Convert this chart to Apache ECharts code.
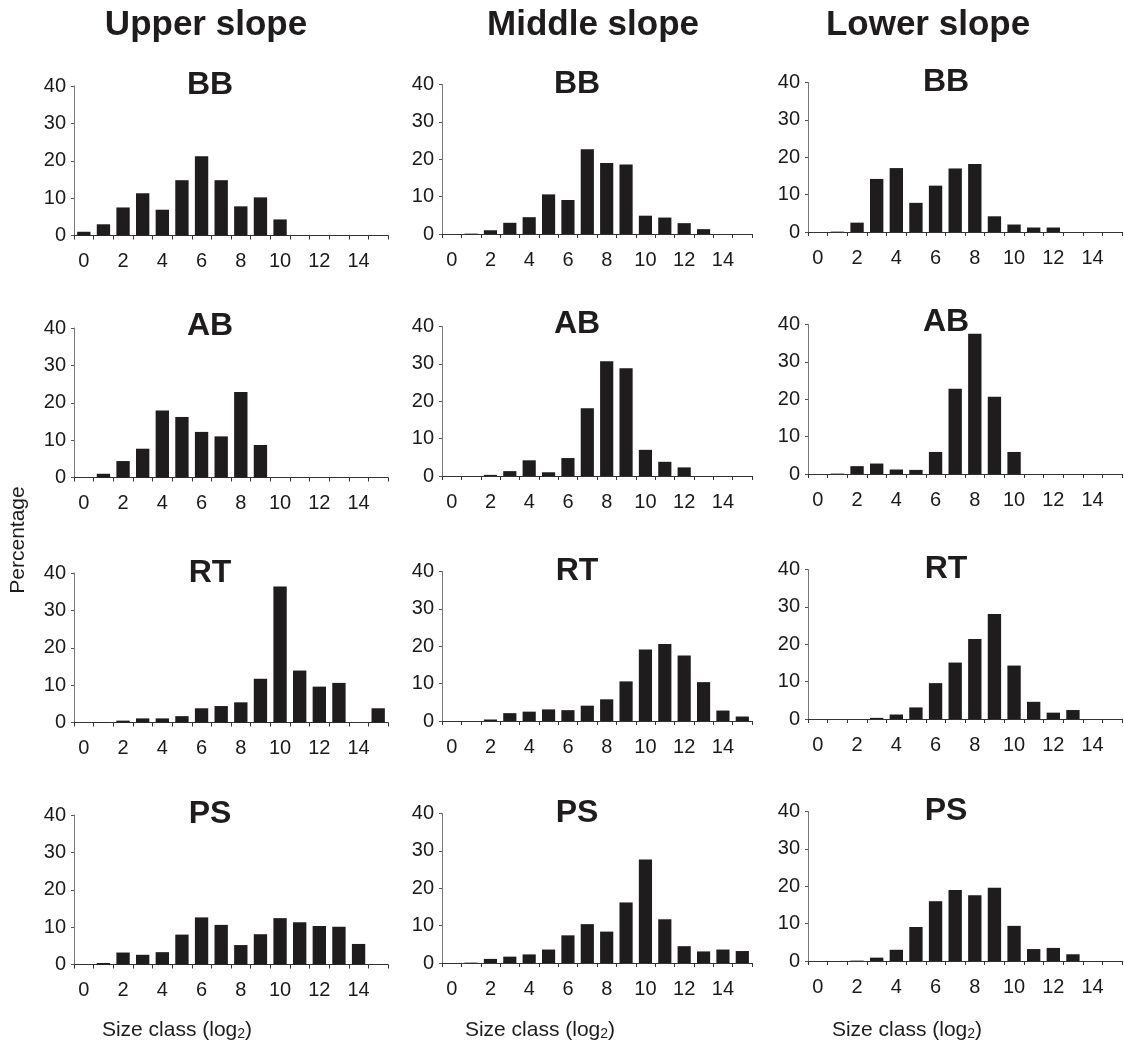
<!DOCTYPE html>
<html>
<head>
<meta charset="utf-8">
<script src="https://cdn.jsdelivr.net/npm/echarts@6/dist/echarts.min.js"></script>
<style>
html,body{margin:0;padding:0;background:#fff;}
#chart{width:1124px;height:1051px;}
</style>
</head>
<body>
<div id="chart"></div>
<script>
// ---- data ----
const sizeClasses = ['0','1','2','3','4','5','6','7','8','9','10','11','12','13','14','15'];
const slopeNames = ['Upper slope', 'Middle slope', 'Lower slope'];
const groupNames = ['BB', 'AB', 'RT', 'PS'];
const yTicks = [0, 10, 20, 30, 40];

const upperBB  = [1.0, 3.0, 7.5, 11.3, 6.9, 14.8, 21.2, 14.8, 7.8, 10.2, 4.3, 0, 0, 0, 0, 0];
const middleBB = [0, 0.1, 1.0, 3.0, 4.5, 10.6, 9.1, 22.7, 19.0, 18.6, 4.9, 4.4, 2.9, 1.3, 0, 0];
const lowerBB  = [0, 0.1, 2.5, 14.2, 17.1, 7.8, 12.4, 17.0, 18.2, 4.2, 2.0, 1.2, 1.2, 0, 0, 0];

const upperAB  = [0, 1.0, 4.4, 7.7, 17.9, 16.2, 12.2, 11.0, 22.9, 8.7, 0, 0, 0, 0, 0, 0];
const middleAB = [0, 0, 0.3, 1.3, 4.2, 1.0, 4.8, 18.1, 30.7, 28.8, 7.0, 3.8, 2.3, 0, 0, 0];
const lowerAB  = [0, 0.1, 2.1, 2.8, 1.2, 1.1, 5.9, 22.8, 37.5, 20.7, 5.9, 0, 0, 0, 0, 0];

const upperRT  = [0, 0.1, 0.5, 1.1, 1.1, 1.7, 3.8, 4.4, 5.4, 11.7, 36.4, 13.9, 9.6, 10.6, 0, 3.8];
const middleRT = [0, 0, 0.4, 2.1, 2.5, 3.1, 2.9, 4.1, 5.8, 10.6, 19.1, 20.6, 17.5, 10.4, 2.8, 1.2];
const lowerRT  = [0, 0, 0, 0.3, 1.2, 3.1, 9.6, 15.1, 21.4, 28.1, 14.3, 4.6, 1.7, 2.4, 0, 0];

const upperPS  = [0, 0.4, 3.2, 2.6, 3.3, 8.0, 12.6, 10.6, 5.2, 8.1, 12.4, 11.3, 10.3, 10.1, 5.5, 0];
const middlePS = [0, 0.1, 1.1, 1.7, 2.3, 3.6, 7.4, 10.4, 8.4, 16.2, 27.7, 11.7, 4.5, 3.1, 3.6, 3.2];
const lowerPS  = [0, 0, 0.1, 0.9, 3.0, 9.1, 16.0, 19.0, 17.6, 19.6, 9.4, 3.2, 3.5, 1.8, 0, 0];

const panelData = [
  [upperBB, middleBB, lowerBB],
  [upperAB, middleAB, lowerAB],
  [upperRT, middleRT, lowerRT],
  [upperPS, middlePS, lowerPS]
];

// ---- layout ----
const colLeft = [74, 442, 808];
const colWidth = [314, 310, 314];
const colDy = [0, -1.5, -3.5];
const rowTop = [86, 328, 573, 815];
const plotHeight = 149.5;
const titleX = [210, 577, 946];
const titleY = [85.5, 326, 573, 814.5];
const headerX = [206, 593, 928];
const xLabelX = [177, 540, 907];

const FONT = '"Liberation Sans", Arial, Helvetica, sans-serif';
const INK = '#1e1c1d';

const grids = [], xAxes = [], yAxes = [], series = [], graphics = [];
let k = 0;
for (let r = 0; r < 4; r++) {
  for (let c = 0; c < 3; c++) {
    grids.push({
      left: colLeft[c], top: rowTop[r] + colDy[c],
      width: colWidth[c], height: plotHeight, containLabel: false
    });
    xAxes.push({
      type: 'category', gridIndex: k, data: sizeClasses, boundaryGap: true,
      axisLine: { lineStyle: { color: '#333', width: 1 } },
      axisTick: { show: true, interval: 0, length: 4, inside: false, lineStyle: { color: '#333' } },
      axisLabel: { interval: 1, color: '#1a1a1a', fontSize: 20, fontFamily: FONT, margin: 16 },
      splitLine: { show: false }
    });
    yAxes.push({
      type: 'value', gridIndex: k, min: yTicks[0], max: yTicks[yTicks.length - 1], interval: 10,
      axisLine: { show: true, lineStyle: { color: '#777', width: 1 } },
      axisTick: { show: true, length: 3, lineStyle: { color: '#555' } },
      axisLabel: { color: '#1a1a1a', fontSize: 20, fontFamily: FONT, margin: 8 },
      splitLine: { show: false }
    });
    series.push({
      type: 'bar', xAxisIndex: k, yAxisIndex: k, data: panelData[r][c],
      barCategoryGap: '32%', itemStyle: { color: INK }, silent: true, animation: false
    });
    graphics.push({
      type: 'text', x: titleX[c], y: titleY[r] + colDy[c],
      style: { text: groupNames[r], font: 'bold 32px ' + FONT, fill: INK,
               textAlign: 'center', textVerticalAlign: 'middle' }
    });
    k++;
  }
}

for (let c = 0; c < 3; c++) {
  graphics.push({
    type: 'text', x: headerX[c], y: 25,
    style: { text: slopeNames[c], font: 'bold 35px ' + FONT, fill: INK,
             textAlign: 'center', textVerticalAlign: 'middle' }
  });
  graphics.push({
    type: 'text', x: xLabelX[c], y: 1030,
    style: {
      text: 'Size class (log{sub|2})',
      rich: { sub: { fontSize: 14, fontFamily: FONT, verticalAlign: 'bottom', padding: [9, 0, 0, 0], fill: INK } },
      font: '21px ' + FONT, fill: INK,
      textAlign: 'center', textVerticalAlign: 'middle'
    }
  });
}
graphics.push({
  type: 'text', x: 18, y: 540, rotation: Math.PI / 2,
  style: { text: 'Percentage', font: '21px ' + FONT, fill: INK,
           textAlign: 'center', textVerticalAlign: 'middle' }
});

const chart = echarts.init(document.getElementById('chart'), null, { renderer: 'canvas' });
chart.setOption({
  animation: false,
  backgroundColor: '#fff',
  grid: grids,
  xAxis: xAxes,
  yAxis: yAxes,
  series: series,
  graphic: graphics
});
</script>
</body>
</html>
